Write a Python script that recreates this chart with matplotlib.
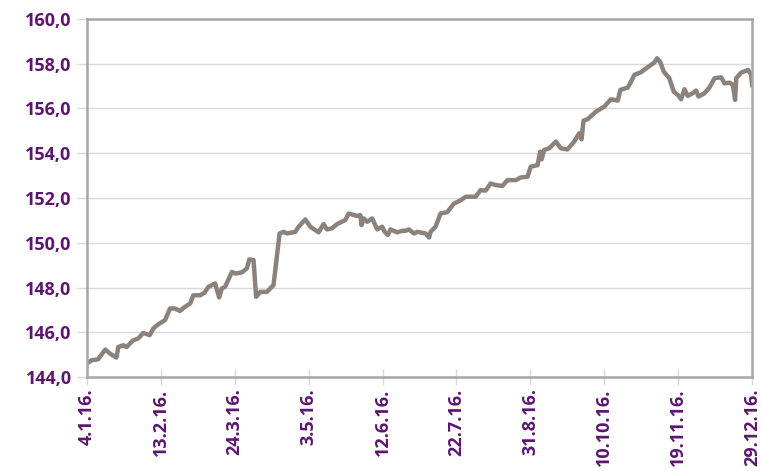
import datetime as dt
import matplotlib
matplotlib.use("Agg")
import matplotlib.pyplot as plt
import matplotlib.dates as mdates
from matplotlib.ticker import FuncFormatter

# days after 4.1.2016 and index value
days = [0, 2.5, 6, 10, 12.5, 16, 17, 19.7, 21.5, 25, 27.8, 30.5, 34, 36, 38.7,
        42.3, 45, 47.7, 50.4, 53, 55.9, 57.6, 61.3, 63.6, 65.8, 69.4, 71.6, 73,
        74.8, 78.5, 80.3, 83.9, 86.6, 87.9, 90.2, 91.6, 93.8, 97.4, 101, 104.3,
        106.5, 108.3, 112.8, 114.6, 118.2, 120.9, 125.4, 128.1, 129.9, 132.7,
        135.4, 139.9, 141.7, 146.3, 148, 148.6, 149.8, 151.7, 154.4, 157.1,
        159.8, 161.2, 162.9, 164.3, 168, 170.7, 172.5, 174.2, 177, 178.8, 183.3,
        185.2, 186, 188.7, 191.4, 195, 198.6, 202.3, 205, 210.4, 213.1, 215.8,
        218.5, 221.3, 224.9, 227.6, 232.1, 234.8, 238.5, 240.2, 243.9, 245.3,
        246.1, 247.5, 250.2, 253.8, 256.5, 260.1, 263.7, 266.4, 267.7, 268.8,
        271, 275.5, 280, 283.6, 287.3, 288.7, 292.7, 294.5, 296.3, 299.9, 303.5,
        307.1, 308.6, 310.4, 312.2, 315.2, 317.6, 319.8, 321.6, 323.4, 325.2,
        327.9, 329.7, 331, 334.3, 337, 339.7, 343.3, 345.1, 347.8, 349.6, 350.8,
        351.4, 354.1, 357.8, 359.5, 360]
values = [144.61, 144.76, 144.8, 145.24, 145.06, 144.88, 145.35, 145.43, 145.35,
          145.65, 145.73, 145.98, 145.88, 146.18, 146.37, 146.55, 147.07, 147.07,
          146.96, 147.14, 147.29, 147.66, 147.66, 147.77, 148.04, 148.19, 147.56,
          147.96, 148.04, 148.7, 148.63, 148.68, 148.86, 149.26, 149.23, 147.59,
          147.81, 147.81, 148.11, 150.42, 150.49, 150.42, 150.49, 150.72, 151.05,
          150.72, 150.47, 150.84, 150.6, 150.65, 150.84, 151.02, 151.31, 151.2,
          151.24, 150.79, 151.09, 150.94, 151.09, 150.6, 150.72, 150.49, 150.35,
          150.6, 150.47, 150.54, 150.54, 150.6, 150.42, 150.49, 150.42, 150.24,
          150.49, 150.72, 151.31, 151.37, 151.75, 151.9, 152.06, 152.06, 152.36,
          152.33, 152.65, 152.58, 152.54, 152.8, 152.8, 152.92, 152.95, 153.4,
          153.47, 154.07, 153.73, 154.15, 154.22, 154.52, 154.22, 154.17, 154.52,
          154.89, 154.62, 155.46, 155.52, 155.86, 156.08, 156.41, 156.35, 156.83,
          156.93, 157.2, 157.5, 157.62, 157.84, 158.05, 158.24, 158.05, 157.64,
          157.35, 156.75, 156.6, 156.41, 156.86, 156.56, 156.68, 156.8, 156.53,
          156.68, 156.95, 157.35, 157.39, 157.12, 157.15, 157.05, 156.38, 157.35,
          157.6, 157.72, 157.5, 157.05]

start = dt.date(2016, 1, 4)
dates = [dt.datetime(2016, 1, 4) + dt.timedelta(days=d) for d in days]
tick_dates = [start + dt.timedelta(days=40 * i) for i in range(10)]

purple = "#5C1670"
grey = "#A6A6A6"

fig = plt.figure(figsize=(7.62, 4.71), dpi=100)
ax = fig.add_axes([0.114, 0.199, 0.873, 0.761])

ax.plot(dates, values, color="#8C827C", linewidth=3.2, solid_joinstyle="round")

ax.set_ylim(144, 160)
ax.set_yticks(range(144, 161, 2))
ax.yaxis.set_major_formatter(FuncFormatter(lambda v, p: f"{v:.1f}".replace(".", ",")))
ax.set_xlim(mdates.date2num(tick_dates[0]), mdates.date2num(tick_dates[-1]))
ax.set_xticks(mdates.date2num(tick_dates))
ax.set_xticklabels([f"{d.day}.{d.month}.16." for d in tick_dates], rotation=90)

ax.grid(axis="y", color="#D9D9D9", linewidth=1)
ax.set_axisbelow(True)
for s in ax.spines.values():
    s.set_color(grey)
    s.set_linewidth(1.8)

ax.tick_params(axis="y", length=7, width=1, color="#D9D9D9", pad=4,
               labelcolor=purple, labelsize=13)
ax.tick_params(axis="x", direction="inout", length=12, width=1, color="#D9D9D9",
               pad=2, labelcolor=purple, labelsize=13)
for lab in ax.get_xticklabels() + ax.get_yticklabels():
    lab.set_fontfamily("Open Sans")
    lab.set_fontweight("bold")

fig.savefig("out.png", dpi=100)
